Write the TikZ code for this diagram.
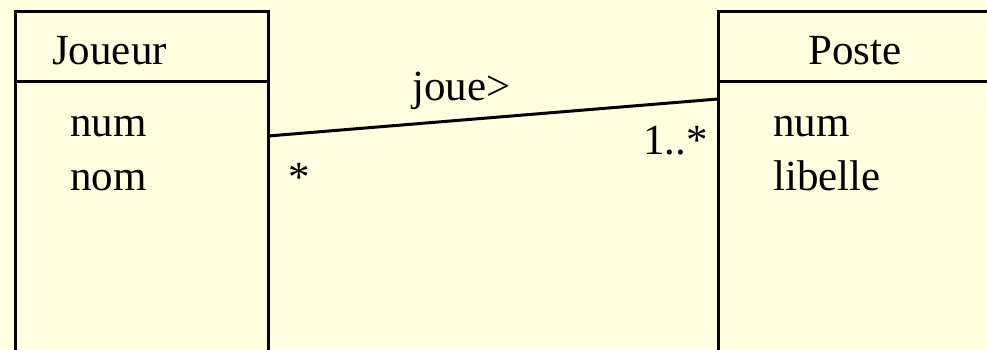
\documentclass[tikz,border=0pt]{standalone}
\usepackage{fontspec}
\setmainfont{Liberation Serif}
\usetikzlibrary{positioning}
\definecolor{umlbg}{HTML}{FFFFE0}

\begin{document}
\begin{tikzpicture}[
    x=1pt, y=-1pt,
    every node/.style={font=\fontsize{43}{54}\selectfont, inner sep=0pt},
    classbox/.style={draw, line width=3pt, fill=umlbg, outer sep=0pt, anchor=north west},
    txt/.style={anchor=base west},
    assoc/.style={line width=3pt},
  ]
  \useasboundingbox (0,0) rectangle (987,349);
  \clip (0,0) rectangle (987,349);
  \fill[umlbg] (0,0) rectangle (987,349);

  % class Joueur
  \node[classbox, minimum width=253pt, minimum height=70pt] (joueur) at (15,11) {};
  \node[classbox, minimum width=253pt, minimum height=300pt] (joueurbody) at (joueur.south west) {};
  \node[txt] (joueurname) at (52,64) {Joueur};
  \node[txt] (joueurnum) at (70,136) {num};
  \node[txt] (joueurnom) at (70,190) {nom};

  % class Poste
  \node[classbox, minimum width=300pt, minimum height=70pt] (poste) at (718,11) {};
  \node[classbox, minimum width=300pt, minimum height=300pt] (postebody) at (poste.south west) {};
  \node[txt] (postename) at (808,64) {Poste};
  \node[txt] (postenum) at (773,136) {num};
  \node[txt] (postelib) at (773,190) {libelle};

  % association
  \draw[assoc] ([yshift=-55pt]joueurbody.north east) -- ([yshift=-18pt]postebody.north west);
  \node[txt] (role) at (412,100) {joue>};
  \node[anchor=base east] (multposte) at (708,154) {1..*};
  \node[txt] (multjoueur) at (288,191) {*};
\end{tikzpicture}
\end{document}
